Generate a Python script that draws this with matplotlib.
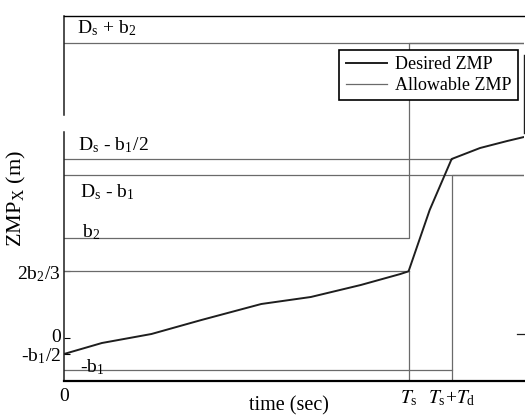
import matplotlib
matplotlib.use("Agg")
import matplotlib.pyplot as plt
from matplotlib.transforms import offset_copy

plt.rcParams["font.family"] = ["Liberation Serif", "DejaVu Serif"]
plt.rcParams["mathtext.fontset"] = "stix"

# Gait parameters (m, s)
b1 = 0.032
b2 = 0.10
Ds = 0.195
Ts = 0.80
Td = 0.10
t_end = 1.068

# Desired ZMP trajectory
t_des = [0.0, 0.088, 0.203, 0.319, 0.458, 0.573, 0.689, 0.781, 0.80, 0.849, 0.90, 0.966, 1.029, 1.068]
zmp_des = [-0.016, -0.005, 0.004, 0.018, 0.034, 0.041, 0.053, 0.064, 0.0667, 0.128, 0.179, 0.190, 0.197, 0.201]

# Allowable ZMP bounds
t_upper = [0.0, Ts, Ts, t_end]
zmp_upper = [b2, b2, Ds + b2, Ds + b2]
t_lower = [0.0, Ts + Td, Ts + Td, t_end]
zmp_lower = [-b1, -b1, Ds - b1, Ds - b1]

ytick_vals = [2 * b2 / 3, 0.0, -b1 / 2]
ytick_labels = [r"2b$_\mathregular{2}$/3", "0", r"-b$_\mathregular{1}$/2"]
xtick_vals = [0.0, Ts, Ts + Td]
xtick_labels = ["0", r"$T_\mathregular{s}$", r"$T_\mathregular{s}$+$T_\mathregular{d}$"]

fig = plt.figure(figsize=(5.25, 4.16), dpi=100)
ax = fig.add_axes([64 / 525, 1 - 381 / 416, 460 / 525, 365 / 416])

grey = "#6a6a6a"
dark = "#1e1e1e"

# guide lines from the y axis to the key levels
ax.plot([0, t_end], [Ds + b2, Ds + b2], color=grey, lw=0.9)
ax.plot([0, Ts + Td], [Ds - b1 / 2, Ds - b1 / 2], color=grey, lw=0.9)
ax.plot([0, t_end], [Ds - b1, Ds - b1], color=grey, lw=0.9)
ax.plot([0, Ts], [2 * b2 / 3, 2 * b2 / 3], color=grey, lw=0.9)
ax.plot([Ts, Ts], [-0.043, 2 * b2 / 3], color=grey, lw=0.9)
ax.plot([Ts + Td, Ts + Td], [-0.043, -b1], color=grey, lw=0.9)

ax.plot(t_des, zmp_des, color=dark, lw=1.4, label="Desired ZMP")
ax.plot(t_upper, zmp_upper, color=grey, lw=0.9, label="Allowable ZMP")
ax.plot(t_lower, zmp_lower, color=grey, lw=0.9)

ax.set_xlim(0, t_end)
ax.set_ylim(-0.043, 0.322)

ax.set_yticks(ytick_vals)
ax.set_yticklabels(ytick_labels, fontsize=14)
ax.set_xticks(xtick_vals)
ax.set_xticklabels(xtick_labels, fontsize=14)
ax.tick_params(axis="y", direction="in", length=4, pad=2, width=0.8)
ax.tick_params(axis="x", direction="in", length=0, pad=5)

# nudge the "0" label up a little so it clears "-b1/2"
zero_lab = ax.get_yticklabels()[1]
zero_lab.set_transform(offset_copy(zero_lab.get_transform(), fig=fig, x=0, y=3, units="dots"))

# frame: broken left edge, partial right edge
ax.spines["right"].set_visible(False)
ax.spines["left"].set_visible(False)
ax.spines["top"].set_linewidth(1.0)
ax.spines["bottom"].set_linewidth(1.6)
ax.plot([0, 0], [0, 0.682], transform=ax.transAxes, color=dark, lw=1.1, clip_on=False)
ax.plot([0, 0], [0.729, 1], transform=ax.transAxes, color=dark, lw=1.1, clip_on=False)
ax.plot([1, 1], [0.68, 0.893], transform=ax.transAxes, color=dark, lw=1.0, clip_on=False)
ax.plot([0.985, 1], [0.129, 0.129], transform=ax.transAxes, color=dark, lw=0.9, clip_on=False)

lab = dict(fontsize=14, va="baseline", ha="left")
ax.text(0.03, Ds + b2 + 0.010, r"D$_\mathregular{s}$ + b$_\mathregular{2}$", **lab)
ax.text(0.033, Ds - b1 / 2 + 0.009, r"D$_\mathregular{s}$ - b$_\mathregular{1}$/2", **lab)
ax.text(0.037, Ds - b1 - 0.022, r"D$_\mathregular{s}$ - b$_\mathregular{1}$", **lab)
ax.text(0.042, b2 + 0.001, r"b$_\mathregular{2}$", **lab)
ax.text(0.037, -b1 - 0.002, r"-b$_\mathregular{1}$", **lab)

ax.set_xlabel("time (sec)", fontsize=14.5)
ax.xaxis.set_label_coords(0.49, -0.043)
ax.xaxis.label.set_va("top")
ax.set_ylabel(r"ZMP$_\mathregular{X}$ (m)", fontsize=16)
ax.yaxis.set_label_coords(-0.104, 0.5)
ax.yaxis.label.set_va("center")

leg = ax.legend(loc="upper right", bbox_to_anchor=(0.987, 0.907), fontsize=13,
                frameon=True, fancybox=False, edgecolor="black", framealpha=1,
                handlelength=2.3, handletextpad=0.45, borderpad=0.35,
                labelspacing=0.2, borderaxespad=0)
leg.get_frame().set_linewidth(1.2)

fig.savefig("out.png", dpi=100)
